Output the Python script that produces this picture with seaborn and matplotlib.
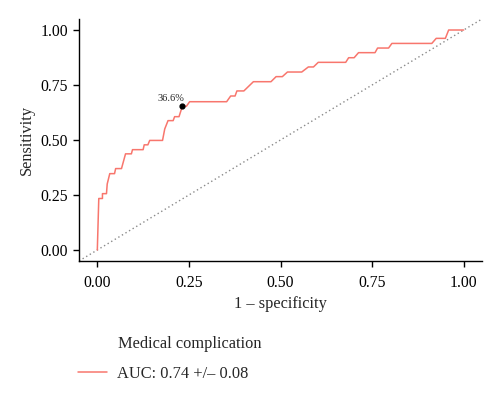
import numpy as np
import pandas as pd
import seaborn as sns
import matplotlib.pyplot as plt

# ROC curve --------------------------------------------------------------------

fpr = [0.0, 0.004, 0.014, 0.014, 0.025, 0.027, 0.034, 0.047, 0.05, 0.066,
       0.077, 0.093, 0.096, 0.125, 0.128, 0.138, 0.143, 0.178, 0.184, 0.193,
       0.207, 0.211, 0.223, 0.232, 0.243, 0.252, 0.353, 0.364, 0.376, 0.381,
       0.40, 0.426, 0.474, 0.488, 0.505, 0.519, 0.558, 0.576, 0.59, 0.603,
       0.678, 0.686, 0.701, 0.713, 0.758, 0.765, 0.795, 0.804, 0.913, 0.925,
       0.95, 0.959, 1.0]
tpr = [0.0, 0.234, 0.234, 0.256, 0.256, 0.30, 0.347, 0.347, 0.37, 0.37,
       0.437, 0.437, 0.456, 0.456, 0.478, 0.478, 0.498, 0.498, 0.55, 0.588,
       0.588, 0.606, 0.606, 0.653, 0.653, 0.674, 0.674, 0.70, 0.70, 0.723,
       0.723, 0.765, 0.765, 0.788, 0.788, 0.809, 0.809, 0.832, 0.832, 0.853,
       0.853, 0.874, 0.874, 0.897, 0.897, 0.918, 0.918, 0.939, 0.939, 0.962,
       0.962, 1.0, 1.0]

cut_fpr = [0.232]
cut_tpr = [0.653]
cut_label = "36.6%"
legend_title = "Medical complication"
legend_label = "AUC: 0.74 +/\u2013 0.08"

roc = pd.DataFrame({"fpr": fpr, "tpr": tpr})

# Plot -------------------------------------------------------------------------

sns.set_style("ticks")
plt.rcParams["font.family"] = ["Liberation Serif", "DejaVu Serif"]

fig = plt.figure(figsize = (5, 3.96), dpi = 100)
ax = fig.add_axes([0.158, 0.341, 0.806, 0.611])

ax.axline((0, 0), (1, 1), color = "#8a8a8a", linestyle = (0, (1, 2)), linewidth = 1)
sns.lineplot(data = roc, x = "fpr", y = "tpr", estimator = None, sort = False,
             color = "#F8766D", linewidth = 1.1, ax = ax, label = legend_label,
             legend = False)
ax.scatter(cut_fpr, cut_tpr, color = "black", s = 12, zorder = 5)
ax.text(cut_fpr[0] - 0.03, cut_tpr[0] + 0.035, cut_label, fontsize = 7.5,
        ha = "center", va = "center")

ax.set_xlim(-0.05, 1.05)
ax.set_ylim(-0.05, 1.05)
ticks = [0, 0.25, 0.5, 0.75, 1.0]
ax.set_xticks(ticks, ["0.00", "0.25", "0.50", "0.75", "1.00"])
ax.set_yticks(ticks, ["0.00", "0.25", "0.50", "0.75", "1.00"])
ax.tick_params(labelsize = 11.3, length = 4, width = 1, colors = "black", pad = 4)
ax.tick_params(axis = "x", pad = 6)
ax.set_xlabel("1 \u2013 specificity", fontsize = 11.8, labelpad = 4)
ax.set_ylabel("Sensitivity", fontsize = 11.8, labelpad = 4)
for side in ["left", "bottom"]:
    ax.spines[side].set_color("black")
    ax.spines[side].set_linewidth(1)
sns.despine(ax = ax)

handles, labels = ax.get_legend_handles_labels()
fig.legend(handles, labels, loc = "center left", bbox_to_anchor = (0.155, 0.056),
           frameon = False, fontsize = 11.8, handlelength = 1.8, handletextpad = 0.6,
           borderpad = 0, borderaxespad = 0)
fig.text(0.236, 0.131, legend_title, fontsize = 11.8, ha = "left", va = "center")

fig.savefig("out.png", dpi = 100)
